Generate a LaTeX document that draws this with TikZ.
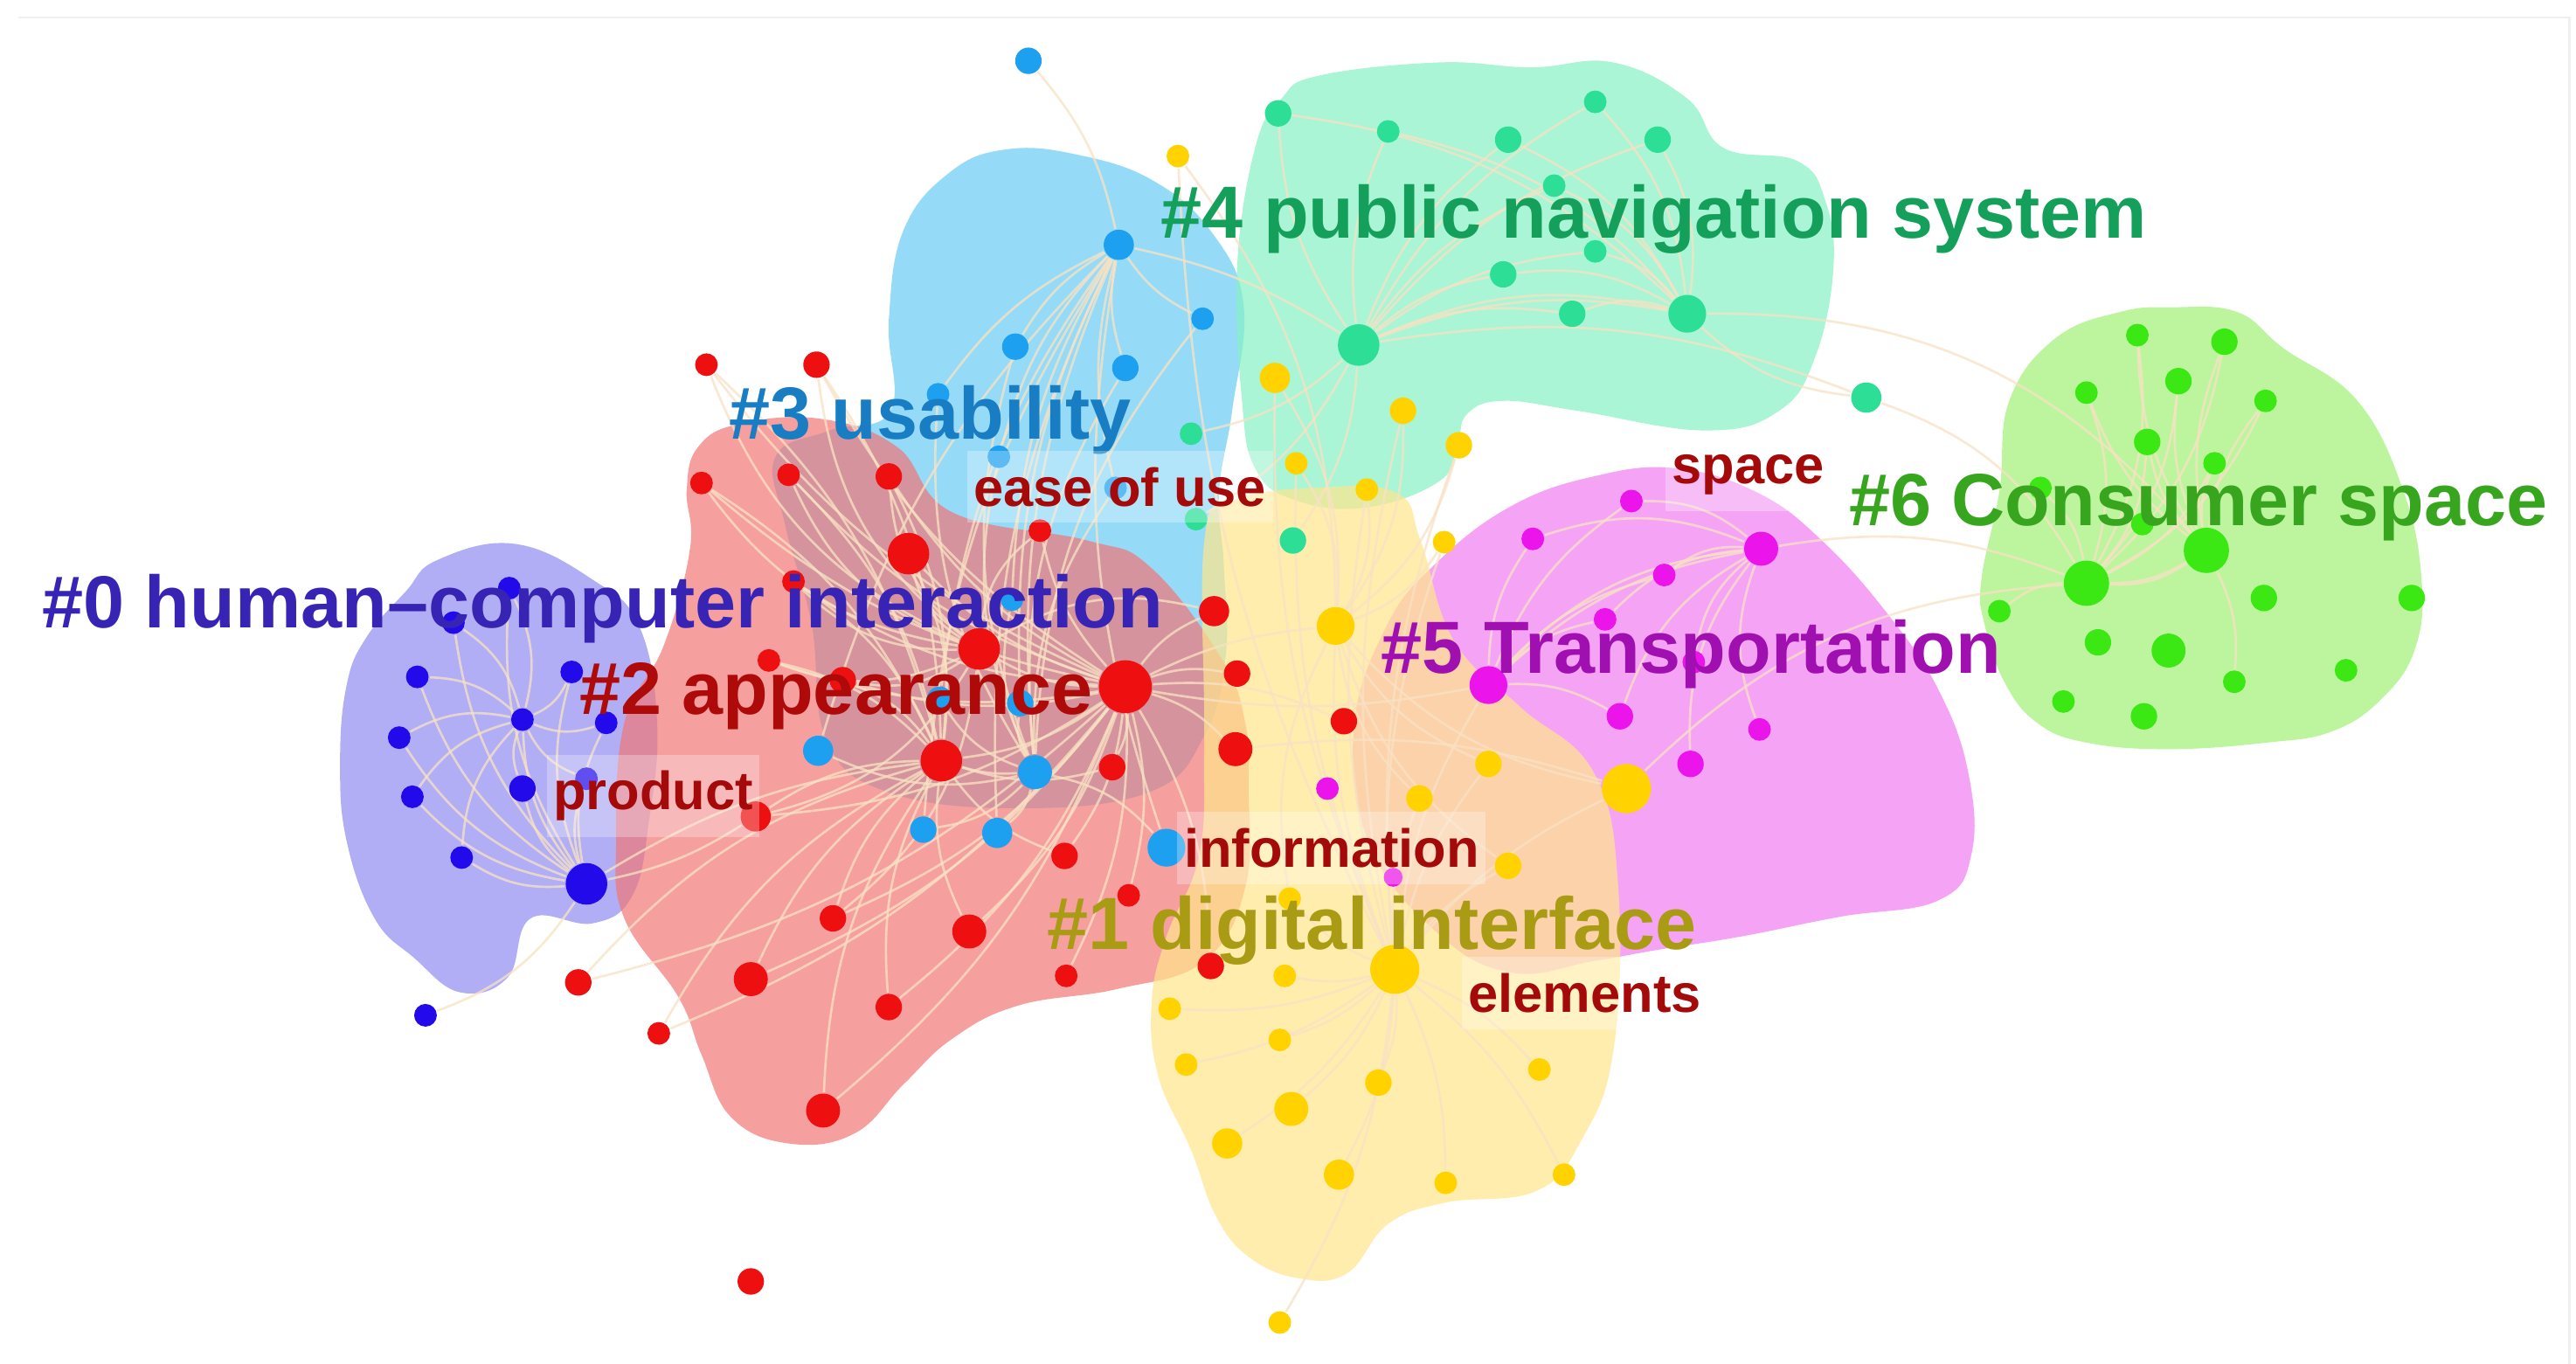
\documentclass[tikz,border=0pt]{standalone}
\usepackage{fontspec}
\setmainfont{Liberation Sans}
\pgfdeclarelayer{blobs}
\pgfdeclarelayer{edges}
\pgfsetlayers{blobs,edges,main}
\definecolor{bP}{RGB}{145,141,241}
\definecolor{bB}{RGB}{105,205,245}
\definecolor{bR}{RGB}{241,119,119}
\definecolor{bM}{RGB}{134,241,198}
\definecolor{bK}{RGB}{241,126,241}
\definecolor{bY}{RGB}{255,230,140}
\definecolor{bG}{RGB}{162,241,119}
\definecolor{dP}{RGB}{35,10,235}
\definecolor{dR}{RGB}{238,16,16}
\definecolor{dB}{RGB}{30,160,240}
\definecolor{dM}{RGB}{45,222,150}
\definecolor{dY}{RGB}{255,210,0}
\definecolor{dK}{RGB}{235,20,235}
\definecolor{dG}{RGB}{60,232,20}
\definecolor{tP}{RGB}{55,35,180}
\definecolor{tR}{RGB}{175,10,10}
\definecolor{tB}{RGB}{25,125,195}
\definecolor{tM}{RGB}{20,160,90}
\definecolor{tG}{RGB}{55,165,30}
\definecolor{tK}{RGB}{160,15,175}
\definecolor{tY}{RGB}{170,155,20}
\definecolor{tS}{RGB}{165,10,10}
\definecolor{edgec}{RGB}{248,226,196}
\begin{document}
\begin{tikzpicture}[x=0.1mm,y=-0.1mm,
  blob/.style={fill opacity=0.7,draw=none},
  dot/.style={circle,inner sep=0pt,draw=none},
  edge/.style={draw=edgec,line width=0.4pt,opacity=0.75},
  big/.style={font=\fontsize{12.8}{14}\selectfont\bfseries,inner sep=0pt},
  small/.style={font=\fontsize{9.3}{11}\selectfont\bfseries,text=tS,fill=white,fill opacity=0.28,text opacity=1,inner xsep=0.4mm,inner ysep=1mm}]
\useasboundingbox (0,0) rectangle (1568,830);

\begin{pgfonlayer}{blobs}
\fill[white] (0,0) rectangle (1568,830);
\draw[black!6,line width=0.4pt] (11,10.6) -- (1564,10.6) -- (1564,830);
\fill[bP,blob] plot[smooth cycle,tension=0.7] coordinates {(313,331) (266,341) (247,360) (223,388) (211,417) (207,464) (211,512) (228,559) (252,583) (280,604) (309,595) (323,559) (361,562) (385,545) (395,500) (400,440) (389,381) (361,353)};
\fill[bB,blob] plot[smooth cycle,tension=0.7] coordinates {(542,250) (541,195) (550,140) (578,105) (612,91) (655,94) (702,110) (738,142) (757,186) (750,250) (742,300) (745,345) (746,400) (733,448) (700,482) (620,492) (540,482) (503,450) (494,380) (478,320) (472,278) (505,262)};
\fill[bR,blob] plot[smooth cycle,tension=0.7] coordinates {(418,298) (420,334) (404,393) (380,440) (375,512) (380,559) (413,607) (427,642) (445,680) (480,696) (520,690) (550,660) (580,632) (620,612) (680,602) (733,585) (758,540) (760,480) (758,440) (743,400) (700,345) (662,329) (580,312) (546,272) (500,255) (450,258) (425,272)};
\fill[bM,blob] plot[smooth cycle,tension=0.7] coordinates {(803,46) (876,38) (932,41) (982,38) (1027,60) (1049,90) (1094,98) (1111,122) (1116,163) (1105,217) (1083,250) (1038,262) (960,250) (915,244) (893,252) (887,271) (876,293) (831,309) (787,304) (764,285) (756,244) (753,163) (764,90) (780,60)};
\fill[bK,blob] plot[smooth cycle,tension=0.7] coordinates {(824,444) (834,515) (875,568) (920,592) (970,585) (1010,578) (1060,570) (1120,558) (1180,548) (1200,520) (1198,470) (1180,420) (1150,375) (1110,330) (1070,300) (1020,285) (970,290) (920,308) (875,342) (844,381)};
\fill[bY,blob] plot[smooth cycle,tension=0.7] coordinates {(733,330) (750,305) (800,297) (850,300) (865,330) (885,390) (925,430) (970,470) (985,540) (982,640) (962,695) (935,725) (880,732) (845,745) (820,775) (790,778) (760,765) (740,740) (725,700) (705,655) (701,610) (710,570) (730,520) (733,450)};
\fill[bG,blob] plot[smooth cycle,tension=0.7] coordinates {(1323,187) (1362,190) (1390,212) (1435,244) (1463,299) (1474,353) (1470,395) (1450,425) (1420,445) (1380,452) (1320,456) (1270,452) (1240,440) (1220,415) (1208,380) (1206,353) (1217,299) (1223,244) (1251,206) (1290,190)};
\end{pgfonlayer}

% purple cluster #0
\foreach \x/\y/\r [count=\i] in {310/358/6,276/379/6,254/412/6,348/409/6,318/438/6,369/440/6,243/449/6,251/485/6,318/480/7,357/474/6,281/522/6,357/538/11,259/618/6}
  \node[dot,fill=dP,minimum size=\r*0.23mm] (p\i) at (\x,\y) {};
% red cluster #2
\foreach \x/\y/\r [count=\i] in {430/222/6,497/222/7,427/294/6,480/289/6,541/290/7,553/337/11,633/323/6,483/354/6,596/395/11,468/402/6,685/418/14,739/372/8,753/410/7,573/463/11,677/467/7,752/456/9,818/439/7,460/497/8,648/521/7,687/545/6,590/567/9,507/559/7,649/594/6,457/596/9,541/613/7,352/598/7,401/629/6,501/676/9,737/588/7,457/780/7,513/414/7}
  \node[dot,fill=dR,minimum size=\r*0.23mm] (r\i) at (\x,\y) {};
% blue cluster #3
\foreach \x/\y/\r [count=\i] in {626/37/7,681/149/8,732/194/6,618/211/7,685/224/7,571/240/6,608/278/6,679/297/6,616/365/6,572/426/7,621/428/7,498/457/8,630/470/9,562/505/7,607/507/8,710/516/10}
  \node[dot,fill=dB,minimum size=\r*0.23mm] (b\i) at (\x,\y) {};
% mint cluster #4
\foreach \x/\y/\r [count=\i] in {778/69/7,845/80/6,918/85/7,971/62/6,1009/85/7,946/113/6,971/153/6,915/167/7,957/191/7,1027/191/10,827/210/11,1136/242/8,725/264/6,728/316/6,787/329/7}
  \node[dot,fill=dM,minimum size=\r*0.23mm] (m\i) at (\x,\y) {};
% yellow cluster #1
\foreach \x/\y/\r [count=\i] in {717/95/6,776/230/8,854/250/7,888/271/7,789/282/6,832/298/6,879/330/6,813/381/10,906/465/7,864/486/7,990/480/13,918/527/7,785/547/6,849/590/13,782/594/6,712/614/6,779/633/6,722/648/6,839/659/7,786/675/9,937/651/6,747/696/8,815/715/8,880/720/6,952/715/6,779/805/6}
  \node[dot,fill=dY,minimum size=\r*0.23mm] (y\i) at (\x,\y) {};
% magenta cluster #5
\foreach \x/\y/\r [count=\i] in {993/305/6,933/328/6,1072/334/9,1013/350/6,977/377/6,906/417/10,986/436/7,1071/444/6,1029/465/7,808/480/6,848/534/5,1031/403/6}
  \node[dot,fill=dK,minimum size=\r*0.23mm] (k\i) at (\x,\y) {};
% green cluster #6
\foreach \x/\y/\r [count=\i] in {1301/204/6,1354/208/7,1326/232/7,1270/239/6,1379/244/6,1307/269/7,1348/282/6,1343/335/12,1270/355/12,1217/372/6,1378/364/7,1468/364/7,1277/391/7,1320/396/9,1256/427/6,1305/436/7,1360/415/6,1428/408/6,1242/297/6,1304/319/6}
  \node[dot,fill=dG,minimum size=\r*0.23mm] (g\i) at (\x,\y) {};

\begin{pgfonlayer}{edges}
\foreach \i in {1,...,11,13} \draw[edge] (p12) to[bend left=18] (p\i);
\foreach \i in {1,2,3,4,6,7,8,9,10,11} \draw[edge] (p5) to[bend right=20] (p\i);
\foreach \i in {1,...,10,12,13,14,15,16,17,18,19,20,21,22,23,24,25,26,27,28,29,31} \draw[edge] (r11) to[bend left=14] (r\i);
\foreach \i in {1,2,3,4,5,6,8,10,15,18,19,21,22,24,25,26,27,28,31} \draw[edge] (r14) to[bend right=16] (r\i);
\foreach \i in {1,2,3,4,5,6,7,8,10,12,18,22,31} \draw[edge] (r9) to[bend left=22] (r\i);
\foreach \i in {1,3,4,5,6,7,8,9,10,11,12,13,14,15,16} \draw[edge] (b2) to[bend right=14] (b\i);
\foreach \i in {3,4,5,6,7,8,9,10,11,12,14,15,16} \draw[edge] (b13) to[bend left=18] (b\i);
\foreach \i in {1,...,10,12,13,14,15} \draw[edge] (m11) to[bend left=15] (m\i);
\foreach \i in {1,...,9,11,12} \draw[edge] (m10) to[bend right=18] (m\i);
\foreach \i in {1,...,13,15,16,...,26} \draw[edge] (y14) to[bend left=12] (y\i);
\foreach \i in {1,...,7,9,10,11,12,13} \draw[edge] (y8) to[bend right=18] (y\i);
\foreach \i in {1,...,5,7,...,12} \draw[edge] (k6) to[bend left=16] (k\i);
\foreach \i in {1,2,4,5,6,7,8,9,12} \draw[edge] (k3) to[bend right=20] (k\i);
\foreach \i in {1,...,7,9,...,20} \draw[edge] (g8) to[bend left=15] (g\i);
\foreach \i in {1,...,8,10,...,20} \draw[edge] (g9) to[bend right=18] (g\i);
\draw[edge] (r11) to[bend left=10] (y8);
\draw[edge] (r11) to[bend right=10] (k6);
\draw[edge] (r16) to[bend left=12] (y11);
\draw[edge] (p12) to[bend right=10] (r18);
\draw[edge] (p12) to[bend left=12] (r14);
\draw[edge] (b13) to[bend left=10] (r14);
\draw[edge] (b2) to[bend left=10] (m11);
\draw[edge] (m10) to[bend left=25] (g8);
\draw[edge] (m12) to[bend left=20] (g9);
\draw[edge] (k3) to[bend left=15] (g9);
\draw[edge] (k6) to[bend right=12] (y14);
\draw[edge] (y11) to[bend left=20] (g9);
\end{pgfonlayer}

% labels
\node[big,text=tP,anchor=base west] (l0) at (25,382) {\#0 human–computer interaction};
\node[big,text=tR,anchor=base west] (l2) at (352,435) {\#2 appearance};
\node[big,text=tB,anchor=base west] (l3) at (443,267) {\#3 usability};
\node[big,text=tM,anchor=base west] (l4) at (706,145) {\#4 public navigation system};
\node[big,text=tG,anchor=base west] (l6) at (1125,320) {\#6 Consumer space};
\node[big,text=tK,anchor=base west] (l5) at (840,410) {\#5 Transportation};
\node[big,text=tY,anchor=base west] (l1) at (637,578) {\#1 digital interface};
\node[small,anchor=base west] (s1) at (588,308) {ease of use};
\node[small,anchor=base west] (s2) at (332,493) {product};
\node[small,anchor=base west] (s3) at (716,528) {information};
\node[small,anchor=base west] (s4) at (1013,294.5) {space};
\node[small,anchor=base west] (s5) at (889,616) {elements};
\end{tikzpicture}
\end{document}
